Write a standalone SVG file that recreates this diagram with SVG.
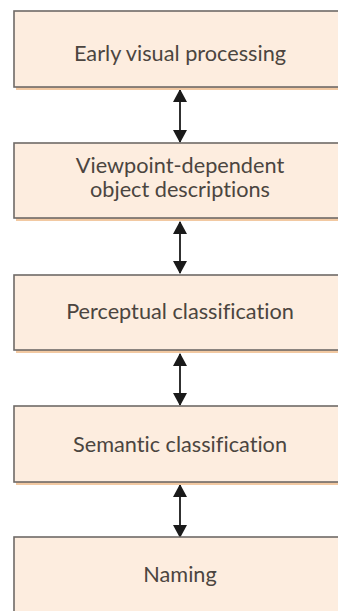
<svg xmlns="http://www.w3.org/2000/svg" width="338" height="611" viewBox="0 0 338 611">
  <defs>
    <style>
      .box { fill: #fdeddf; stroke: #6f6a67; stroke-width: 1.6; }
      .shadow { fill: #f2c9a2; }
      .label { font-family: Lato, "Open Sans", "DejaVu Sans", sans-serif; font-size: 21.7px; fill: #4b4540; text-anchor: middle; font-variant-ligatures: none; }
      .link { stroke: #1a1a1a; stroke-width: 1.8; fill: none; marker-start: url(#head); marker-end: url(#head); }
    </style>
    <marker id="head" viewBox="0 0 13 14" refX="12" refY="7" markerWidth="13" markerHeight="14" markerUnits="userSpaceOnUse" orient="auto-start-reverse">
      <path d="M0,0 L13,7 L0,14 Z" fill="#1a1a1a"/>
    </marker>
  </defs>

  <rect width="338" height="611" fill="#ffffff"/>

  <g id="connectors">
    <line class="link" x1="180" y1="90" x2="180" y2="142"/>
    <line class="link" x1="180" y1="222" x2="180" y2="273"/>
    <line class="link" x1="180" y1="354" x2="180" y2="405"/>
    <line class="link" x1="180" y1="485" x2="180" y2="537"/>
  </g>

  <g id="early-visual-processing">
    <rect class="shadow" x="16" y="13" width="332" height="77"/>
    <rect class="box" x="14" y="11" width="332" height="76"/>
    <text class="label" x="180" y="61">Early visual processing</text>
  </g>

  <g id="viewpoint-dependent">
    <rect class="shadow" x="16" y="145" width="332" height="76"/>
    <rect class="box" x="14" y="143" width="332" height="75"/>
    <text class="label" x="180" y="173">Viewpoint-dependent</text>
    <text class="label" x="180" y="196.5">object descriptions</text>
  </g>

  <g id="perceptual-classification">
    <rect class="shadow" x="16" y="277" width="332" height="76"/>
    <rect class="box" x="14" y="275" width="332" height="75"/>
    <text class="label" x="180" y="319">Perceptual classification</text>
  </g>

  <g id="semantic-classification">
    <rect class="shadow" x="16" y="408" width="332" height="77"/>
    <rect class="box" x="14" y="406" width="332" height="76"/>
    <text class="label" x="180" y="452">Semantic classification</text>
  </g>

  <g id="naming">
    <rect class="shadow" x="16" y="539" width="332" height="80"/>
    <rect class="box" x="14" y="537" width="332" height="80"/>
    <text class="label" x="180" y="582">Naming</text>
  </g>
</svg>
